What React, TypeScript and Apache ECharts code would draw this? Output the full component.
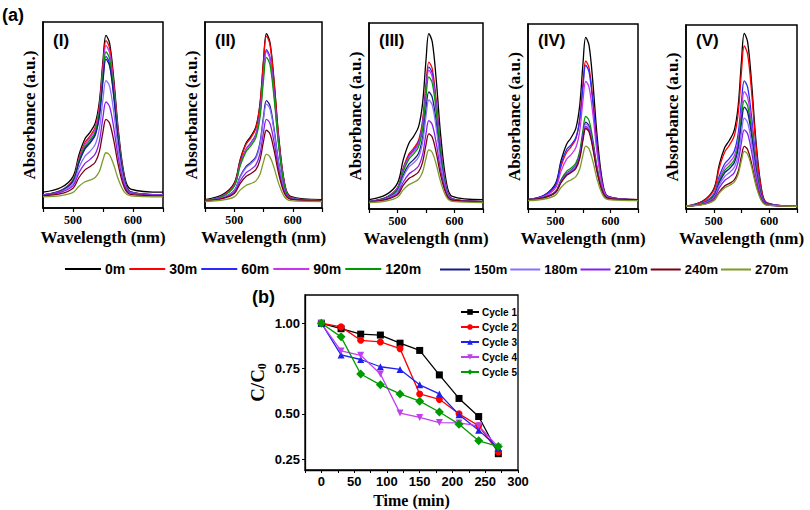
import React, { useEffect, useRef } from "react";
import * as echarts from "echarts";

// ---------- Data: panel (a) UV-vis spectra ----------
const WAVELENGTHS = [450, 480, 500, 510, 520, 528, 537, 544, 550, 555, 561, 568, 576, 586, 596, 650];
const TIMES = ["0m", "30m", "60m", "90m", "120m", "150m", "180m", "210m", "240m", "270m"];
const TIME_COLORS = ["#000000", "#ff0000", "#2a2aff", "#c935ee", "#009a00", "#1a1a8c", "#8a70ff", "#8a1ee6", "#7a0014", "#7f9a2a"];
const PANEL_LABELS = ["(I)", "(II)", "(III)", "(IV)", "(V)"];

const SPECTRA_I = [
  [8.5, 11.0, 16.9, 28.7, 37.2, 40.5, 45.6, 57.4, 79.3, 92.8, 88.6, 69.2, 40.5, 16.9, 10.2, 8.5],
  [7, 9.5, 15.3, 26.9, 35.2, 38.5, 43.5, 55.1, 76.7, 90, 85.9, 66.8, 38.5, 15.3, 8.7, 7],
  [7, 9.2, 14.5, 24.9, 32.3, 35.3, 39.8, 50.2, 69.6, 81.5, 77.8, 60.6, 35.3, 14.5, 8.5, 7],
  [7, 9.4, 15.0, 26.3, 34.3, 37.6, 42.4, 53.6, 74.5, 87.4, 83.4, 64.9, 37.6, 15.0, 8.6, 7],
  [7, 9.3, 14.7, 25.5, 33.2, 36.3, 40.9, 51.7, 71.7, 84, 80.2, 62.4, 36.3, 14.7, 8.5, 7],
  [7, 9.2, 14.3, 24.5, 31.8, 34.7, 39.1, 49.3, 68.3, 80, 76.4, 59.6, 34.7, 14.3, 8.5, 7],
  [7, 8.8, 13.2, 21.8, 27.9, 30.4, 34.1, 42.7, 58.7, 68.5, 65.4, 51.3, 30.4, 13.2, 8.2, 7],
  [7, 8.5, 12, 19, 24, 26, 29, 36, 49, 57, 54.5, 43, 26, 12, 8, 7],
  [6.5, 7.7, 10.6, 16.4, 20.5, 22.2, 24.6, 30.4, 41.1, 47.7, 45.6, 36.2, 22.2, 10.6, 7.3, 6.5],
  [6, 6.7, 8.4, 11.7, 14.1, 15, 16.4, 19.7, 25.9, 29.7, 28.5, 23.1, 15, 8.4, 6.5, 6],
];
const SPECTRA_II = [
  [4.5, 7.2, 13.4, 25.9, 34.8, 38.4, 43.7, 56.2, 79.4, 93.7, 89.2, 68.7, 38.4, 13.4, 6.3, 4.5],
  [4, 6.7, 12.8, 25.2, 34.1, 37.6, 42.9, 55.3, 78.3, 92.4, 88, 67.6, 37.6, 12.8, 5.8, 4],
  [4, 6.4, 12.1, 23.5, 31.6, 34.9, 39.7, 51.1, 72.2, 85.2, 81.1, 62.5, 34.9, 12.1, 5.6, 4],
  [4, 6.4, 12, 23.2, 31.3, 34.5, 39.3, 50.5, 71.4, 84.2, 80.2, 61.7, 34.5, 12, 5.6, 4],
  [4, 6.3, 11.7, 22.5, 30.2, 33.3, 37.9, 48.7, 68.7, 81, 77.2, 59.4, 33.3, 11.7, 5.5, 4],
  [4, 5.6, 9.4, 16.9, 22.3, 24.4, 27.6, 35.1, 49.1, 57.7, 55, 42.7, 24.4, 9.4, 5.1, 4],
  [4, 5.6, 9.2, 16.5, 21.6, 23.7, 26.8, 34.1, 47.6, 55.9, 53.3, 41.4, 23.7, 9.2, 5, 4],
  [4, 5.3, 8.4, 14.5, 18.9, 20.6, 23.2, 29.3, 40.7, 47.7, 45.5, 35.5, 20.6, 8.4, 4.9, 4],
  [4, 5.1, 7.8, 13.1, 16.9, 18.4, 20.6, 25.9, 35.8, 41.8, 39.9, 31.2, 18.4, 7.8, 4.8, 4],
  [3.5, 4.3, 6, 9.6, 12.1, 13.1, 14.6, 18.2, 24.8, 28.8, 27.5, 21.7, 13.1, 6, 4, 3.5],
];
const SPECTRA_III = [
  [5, 7.7, 13.9, 26.4, 35.4, 38.9, 44.3, 56.8, 80, 94.3, 89.8, 69.3, 38.9, 13.9, 6.8, 5],
  [4, 6.3, 11.5, 22, 29.5, 32.5, 37, 47.5, 67, 79, 75.3, 58, 32.5, 11.5, 5.5, 4],
  [4, 6.2, 11.2, 21.4, 28.6, 31.5, 35.9, 46, 64.8, 76.4, 72.8, 56.1, 31.5, 11.2, 5.4, 4],
  [4, 6.1, 11.1, 20.9, 28, 30.8, 35.1, 44.9, 63.3, 74.6, 71.1, 54.8, 30.8, 11.1, 5.4, 4],
  [4, 6, 10.7, 20.1, 26.8, 29.5, 33.5, 42.9, 60.3, 71, 67.7, 52.2, 29.5, 10.7, 5.3, 4],
  [4, 5.8, 9.9, 18.2, 24.1, 26.4, 30, 38.2, 53.6, 63, 60, 46.5, 26.4, 9.9, 5.2, 4],
  [4, 5.6, 9.5, 17.1, 22.6, 24.7, 28, 35.7, 49.9, 58.6, 55.9, 43.3, 24.7, 9.5, 5.1, 4],
  [4, 5.3, 8.4, 14.4, 18.8, 20.5, 23.1, 29.2, 40.5, 47.5, 45.3, 35.3, 20.5, 8.4, 4.9, 4],
  [4, 5.1, 7.6, 12.7, 16.4, 17.8, 20, 25.1, 34.6, 40.4, 38.6, 30.2, 17.8, 7.6, 4.7, 4],
  [3.5, 4.3, 6.3, 10.3, 13.1, 14.3, 16, 19.9, 27.3, 31.8, 30.4, 23.9, 14.3, 6.3, 4.1, 3.5],
];
const SPECTRA_IV = [
  [5, 7.6, 13.8, 26.1, 34.9, 38.4, 43.6, 55.9, 78.8, 92.8, 88.4, 68.2, 38.4, 13.8, 6.8, 5],
  [5, 7.3, 12.5, 23, 30.5, 33.5, 38, 48.5, 68, 80, 76.3, 59, 33.5, 12.5, 6.5, 5],
  [5, 7.5, 13, 24.5, 32, 34.5, 38.5, 48, 66.1, 77.7, 74.1, 57.3, 32.6, 12.3, 6.5, 5],
  [5, 6.9, 11.4, 20.4, 26.8, 29.3, 33.2, 42.1, 58.8, 69, 65.8, 51.1, 29.3, 11.4, 6.3, 5],
  [5, 6.4, 9.5, 15.8, 20.3, 22.1, 24.8, 31.1, 42.8, 50, 47.8, 37.4, 22.1, 9.5, 5.9, 5],
  [5, 6.3, 9.2, 15.1, 19.3, 21, 23.5, 29.4, 40.3, 47, 44.9, 35.2, 21, 9.2, 5.8, 5],
  [5, 6.2, 9.1, 14.8, 18.9, 20.6, 23, 28.8, 39.4, 46, 44, 34.5, 20.6, 9.1, 5.8, 5],
  [5, 6.2, 9, 14.5, 18.5, 20, 22.4, 28, 38.3, 44.6, 42.6, 33.5, 20, 9, 5.8, 5],
  [5, 6.2, 8.9, 14.2, 18.1, 19.6, 21.9, 27.3, 37.3, 43.5, 41.6, 32.7, 19.6, 8.9, 5.8, 5],
  [4.5, 5.4, 7.5, 11.6, 14.5, 15.7, 17.5, 21.6, 29.3, 34, 32.5, 25.7, 15.7, 7.5, 5.1, 4.5],
];
const SPECTRA_V = [
  [1.5, 4.3, 10.9, 24.1, 33.5, 37.2, 42.9, 56, 80.5, 95.5, 90.8, 69.2, 37.2, 10.9, 3.4, 1.5],
  [1.5, 4.1, 10.2, 22.4, 31.1, 34.6, 39.8, 52, 74.7, 88.6, 84.2, 64.2, 34.6, 10.2, 3.2, 1.5],
  [1.5, 3.5, 8.3, 17.8, 24.7, 27.4, 31.5, 41, 58.7, 69.6, 66.2, 50.5, 27.4, 8.3, 2.9, 1.5],
  [1.5, 3.4, 7.7, 16.5, 22.7, 25.2, 28.9, 37.6, 53.8, 63.8, 60.7, 46.4, 25.2, 7.7, 2.7, 1.5],
  [1.5, 3.2, 7.3, 15.3, 21.1, 23.4, 26.8, 34.9, 49.8, 59, 56.1, 42.9, 23.4, 7.3, 2.7, 1.5],
  [1.5, 3.1, 6.9, 14.4, 19.8, 21.9, 25.2, 32.7, 46.7, 55.3, 52.6, 40.2, 21.9, 6.9, 2.6, 1.5],
  [1.5, 2.9, 6.3, 13, 17.8, 19.7, 22.6, 29.3, 41.7, 49.4, 47, 36, 19.7, 6.3, 2.5, 1.5],
  [1.5, 2.7, 5.7, 11.5, 15.6, 17.3, 19.8, 25.6, 36.4, 43, 40.9, 31.4, 17.3, 5.7, 2.3, 1.5],
  [1.5, 2.5, 4.8, 9.3, 12.6, 13.9, 15.8, 20.4, 28.8, 34, 32.4, 24.9, 13.9, 4.8, 2.2, 1.5],
  [1.5, 2.4, 4.5, 8.7, 11.6, 12.8, 14.6, 18.8, 26.5, 31.3, 29.8, 23, 12.8, 4.5, 2.1, 1.5],
];
const ALL_SPECTRA = [SPECTRA_I, SPECTRA_II, SPECTRA_III, SPECTRA_IV, SPECTRA_V];

// ---------- Data: panel (b) C/C0 vs time ----------
const TIME_MIN = [0, 30, 60, 90, 120, 150, 180, 210, 240, 270];
const CYCLE_1 = [1.0, 0.97, 0.94, 0.935, 0.89, 0.85, 0.715, 0.585, 0.485, 0.28];
const CYCLE_2 = [1.0, 0.98, 0.906, 0.897, 0.86, 0.61, 0.58, 0.5, 0.434, 0.29];
const CYCLE_3 = [1.0, 0.825, 0.8, 0.76, 0.745, 0.66, 0.61, 0.495, 0.41, 0.31];
const CYCLE_4 = [1.0, 0.847, 0.823, 0.72, 0.504, 0.48, 0.452, 0.45, 0.434, 0.316];
const CYCLE_5 = [1.0, 0.925, 0.72, 0.66, 0.61, 0.57, 0.51, 0.443, 0.351, 0.32];
const CYCLE_NAMES = ["Cycle 1", "Cycle 2", "Cycle 3", "Cycle 4", "Cycle 5"];
const CYCLE_VALUES = [CYCLE_1, CYCLE_2, CYCLE_3, CYCLE_4, CYCLE_5];
const CYCLE_COLORS = ["#000000", "#ff0000", "#2020ee", "#c040f0", "#009a00"];
const CYCLE_SYMBOLS = ["rect", "circle", "triangle", "triangle", "diamond"];
const CYCLE_ROTATE = [0, 0, 0, 180, 0];
const X_LABELS_B = [0, 50, 100, 150, 200, 250, 300];
const Y_LABELS_B = [0.25, 0.5, 0.75, 1.0];

// ---------- Layout ----------
const SPECTRA_GRIDS = [
  { left: 43, top: 22, width: 120, height: 186 },
  { left: 205, top: 22, width: 117, height: 186 },
  { left: 369, top: 23, width: 114, height: 186 },
  { left: 528, top: 24, width: 110, height: 185 },
  { left: 686, top: 25, width: 111, height: 184 },
];
const GRID_B = { left: 305, top: 295, width: 213, height: 175 };

const SERIF = "'Liberation Serif', 'Times New Roman', serif";
const SANS = "'Liberation Sans', Arial, sans-serif";

export default function App() {
  const ref = useRef<HTMLDivElement>(null);

  useEffect(() => {
    if (!ref.current) return;
    const chart = echarts.init(ref.current, undefined, { renderer: "svg" });

    const grids: any[] = [];
    const xAxes: any[] = [];
    const yAxes: any[] = [];
    const series: any[] = [];
    const graphics: any[] = [];

    SPECTRA_GRIDS.forEach((g, p) => {
      grids.push({ ...g, show: true, borderColor: "#000", borderWidth: 1.5, backgroundColor: "transparent" });
      xAxes.push({
        gridIndex: p,
        type: "value",
        min: 450,
        max: 650,
        interval: 50,
        axisLine: { show: true, onZero: false, lineStyle: { color: "#000", width: 1.5 } },
        axisTick: { show: true, length: 4, lineStyle: { color: "#000", width: 1.2 } },
        axisLabel: {
          formatter: (v: number) => (v === 500 || v === 600 ? String(v) : ""),
          fontFamily: SERIF,
          fontWeight: "bold",
          fontSize: 12,
          color: "#000",
          margin: 6,
        },
        splitLine: { show: false },
        name: "Wavelength (nm)",
        nameLocation: "middle",
        nameGap: 21,
        nameTextStyle: { fontFamily: SERIF, fontWeight: "bold", fontSize: 17, color: "#000" },
      });
      yAxes.push({
        gridIndex: p,
        type: "value",
        min: 0,
        max: 100,
        axisLine: { show: true, onZero: false, lineStyle: { color: "#000", width: 1.5 } },
        axisTick: { show: false },
        axisLabel: { show: false },
        splitLine: { show: false },
        name: "Absorbance (a.u.)",
        nameLocation: "middle",
        nameGap: 5,
        nameRotate: 90,
        nameTextStyle: { fontFamily: SERIF, fontWeight: "bold", fontSize: 17, color: "#000" },
      });
      ALL_SPECTRA[p].forEach((vals, t) => {
        series.push({
          type: "line",
          name: TIMES[t],
          xAxisIndex: p,
          yAxisIndex: p,
          data: WAVELENGTHS.map((w, i) => [w, vals[i]]),
          symbol: "none",
          smooth: 0.35,
          lineStyle: { width: 1.3, color: TIME_COLORS[t] },
          itemStyle: { color: TIME_COLORS[t] },
          emphasis: { disabled: true },
        });
      });
      graphics.push({
        type: "text",
        x: g.left + 10,
        y: 40,
        style: {
          text: PANEL_LABELS[p],
          font: `bold 17px ${SANS}`,
          fill: "#000",
          textVerticalAlign: "middle",
        },
      });
    });

    // panel (b)
    grids.push({ ...GRID_B, show: true, borderColor: "#000", borderWidth: 1.3, backgroundColor: "transparent" });
    xAxes.push({
      gridIndex: 5,
      type: "value",
      min: -25,
      max: 300,
      interval: 25,
      axisLine: { show: true, onZero: false, lineStyle: { color: "#000", width: 1.3 } },
      axisTick: { show: true, length: 3, lineStyle: { color: "#000" } },
      axisLabel: {
        formatter: (v: number) => (X_LABELS_B.indexOf(v) >= 0 ? String(v) : ""),
        fontFamily: SANS,
        fontWeight: "bold",
        fontSize: 13,
        color: "#000",
        margin: 5,
      },
      splitLine: { show: false },
      name: "Time (min)",
      nameLocation: "middle",
      nameGap: 22,
      nameTextStyle: { fontFamily: SERIF, fontWeight: "bold", fontSize: 16, color: "#000" },
    });
    yAxes.push({
      gridIndex: 5,
      type: "value",
      min: 0.19,
      max: 1.156,
      axisLine: { show: true, onZero: false, lineStyle: { color: "#000", width: 1.3 } },
      axisTick: { show: true, length: 3, customValues: Y_LABELS_B, lineStyle: { color: "#000" } },
      axisLabel: {
        customValues: Y_LABELS_B,
        formatter: (v: number) => v.toFixed(2),
        fontFamily: SANS,
        fontWeight: "bold",
        fontSize: 13,
        color: "#000",
        margin: 5,
      },
      splitLine: { show: false },
      name: "C/C{s|0}",
      nameLocation: "middle",
      nameGap: 37,
      nameRotate: 90,
      nameTextStyle: {
        fontFamily: SERIF,
        fontWeight: "bold",
        fontSize: 19,
        color: "#000",
        rich: {
          s: { fontFamily: SERIF, fontWeight: "bold", fontSize: 12, color: "#000", padding: [9, 0, 0, 0] },
        },
      },
    });
    CYCLE_VALUES.forEach((vals, c) => {
      series.push({
        type: "line",
        name: CYCLE_NAMES[c],
        xAxisIndex: 5,
        yAxisIndex: 5,
        data: TIME_MIN.map((t, i) => [t, vals[i]]),
        symbol: CYCLE_SYMBOLS[c],
        symbolRotate: CYCLE_ROTATE[c],
        symbolSize: c === 4 ? 9 : 7,
        lineStyle: { width: 1.3, color: CYCLE_COLORS[c] },
        itemStyle: { color: CYCLE_COLORS[c] },
        emphasis: { disabled: true },
      });
    });

    graphics.push(
      { type: "text", x: 2, y: 15, style: { text: "(a)", font: `bold 18px ${SANS}`, fill: "#000", textVerticalAlign: "middle" } },
      { type: "text", x: 252, y: 297, style: { text: "(b)", font: `bold 18px ${SANS}`, fill: "#000", textVerticalAlign: "middle" } }
    );

    chart.setOption({
      animation: false,
      backgroundColor: "#fff",
      grid: grids,
      xAxis: xAxes,
      yAxis: yAxes,
      series,
      graphic: graphics,
      legend: [
        {
          data: TIMES.slice(0, 5),
          left: 60,
          top: 257,
          icon: "rect",
          itemWidth: 36,
          itemHeight: 2,
          itemGap: 4,
          selectedMode: false,
          textStyle: { fontFamily: SANS, fontWeight: "bold", fontSize: 14, color: "#000", padding: [0, 0, 0, -1] },
        },
        {
          data: TIMES.slice(5),
          left: 435,
          top: 258,
          icon: "rect",
          itemWidth: 30,
          itemHeight: 2,
          itemGap: 3,
          selectedMode: false,
          textStyle: { fontFamily: SANS, fontWeight: "bold", fontSize: 13, color: "#000", padding: [0, 0, 0, -1] },
        },
        {
          data: CYCLE_NAMES,
          orient: "vertical",
          left: 455,
          top: 302,
          itemWidth: 18,
          itemHeight: 7,
          itemGap: 5,
          selectedMode: false,
          textStyle: { fontFamily: SANS, fontWeight: "bold", fontSize: 10, color: "#000", padding: [0, 0, 0, -2] },
        },
      ],
    });

    return () => chart.dispose();
  }, []);

  return <div ref={ref} style={{ position: "fixed", left: 0, top: 0, width: 810, height: 510 }} />;
}
